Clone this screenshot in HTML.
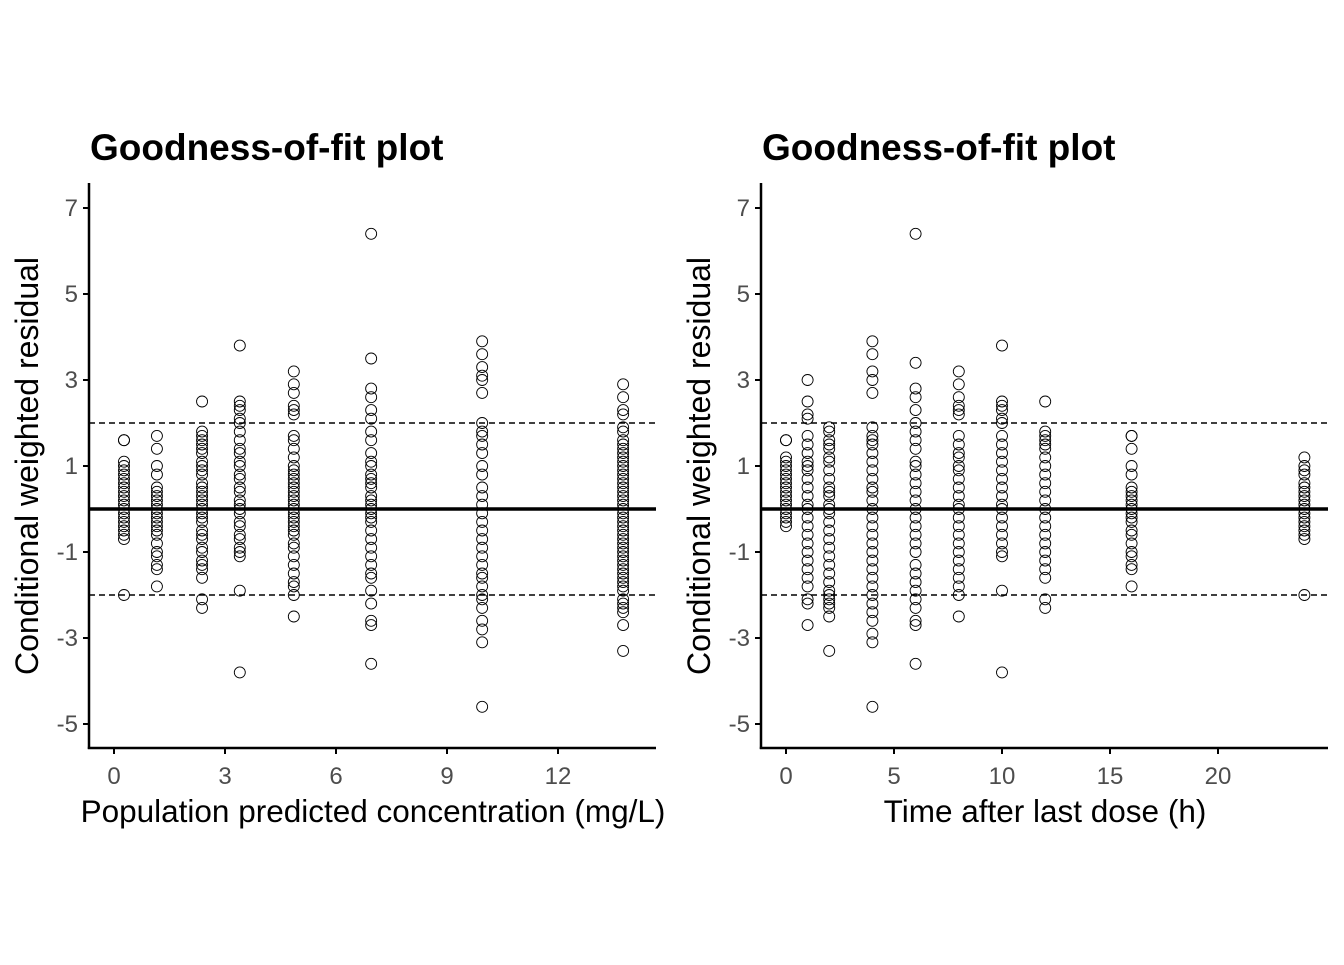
<!DOCTYPE html>
<html><head><meta charset="utf-8"><style>
body{margin:0;background:#fff;}
svg text{font-family:"Liberation Sans",Arial,sans-serif;}
</style></head><body>
<svg id="chart" width="1344" height="960" xmlns="http://www.w3.org/2000/svg">
<rect width="1344" height="960" fill="#fff"/>
</svg>
<script>
const yTicks=[7,5,3,1,-1,-3,-5];
const leftXTicks=[0,3,6,9,12];
const rightXTicks=[0,5,10,15,20];
const leftX=[0.27,1.16,2.38,3.4,4.86,6.95,9.95,13.76];
const leftY=[
[1.6,1.6,1.1,1.0,0.9,0.8,0.7,0.6,0.5,0.4,0.3,0.2,0.1,0.0,-0.1,-0.2,-0.3,-0.4,-0.5,-0.6,-0.7,-2.0],
[1.7,1.4,1.0,0.8,0.5,0.4,0.3,0.2,0.1,0,-0.1,-0.2,-0.3,-0.4,-0.5,-0.6,-0.8,-1.0,-1.1,-1.3,-1.4,-1.8],
[2.5,1.8,1.7,1.6,1.5,1.4,1.3,1.1,1.0,0.9,0.8,0.6,0.5,0.4,0.3,0.2,0.1,0,-0.1,-0.2,-0.3,-0.5,-0.6,-0.7,-0.9,-1.0,-1.2,-1.3,-1.4,-1.6,-2.1,-2.3],
[3.8,2.5,2.4,2.3,2.1,2.0,1.8,1.6,1.4,1.3,1.1,1.0,0.8,0.7,0.5,0.4,0.2,0.1,0,-0.1,-0.3,-0.4,-0.6,-0.7,-0.9,-1.0,-1.1,-1.9,-3.8],
[3.2,2.9,2.7,2.4,2.3,2.2,1.7,1.6,1.4,1.2,1.0,0.9,0.8,0.7,0.6,0.5,0.4,0.3,0.2,0.1,0,-0.1,-0.2,-0.3,-0.4,-0.5,-0.6,-0.8,-0.9,-1.1,-1.3,-1.5,-1.7,-1.8,-2.0,-2.5],
[6.4,3.5,2.8,2.6,2.3,2.1,1.8,1.6,1.3,1.1,1.0,0.8,0.7,0.6,0.5,0.3,0.2,0.1,0,-0.1,-0.2,-0.3,-0.5,-0.7,-0.9,-1.1,-1.3,-1.5,-1.6,-1.9,-2.2,-2.6,-2.7,-3.6],
[3.9,3.6,3.3,3.1,3.0,2.7,2.0,1.8,1.7,1.5,1.3,1.0,0.8,0.5,0.3,0.1,-0.1,-0.3,-0.5,-0.7,-0.9,-1.1,-1.3,-1.5,-1.6,-1.8,-2.0,-2.1,-2.3,-2.6,-2.8,-3.1,-4.6],
[2.9,2.6,2.3,2.2,1.9,1.8,1.6,1.5,1.4,1.3,1.2,1.1,1.0,0.9,0.8,0.7,0.6,0.5,0.4,0.3,0.2,0.1,0,-0.1,-0.2,-0.3,-0.4,-0.5,-0.6,-0.7,-0.8,-0.9,-1.0,-1.1,-1.2,-1.3,-1.4,-1.5,-1.6,-1.7,-1.8,-1.9,-2.1,-2.2,-2.3,-2.4,-2.7,-3.3]
];
const rightX=[0,1,2,4,6,8,10,12,16,24];
const rightY=[
[1.6,1.6,1.2,1.1,1.0,0.9,0.8,0.7,0.6,0.5,0.4,0.3,0.2,0.1,0,-0.1,-0.2,-0.3,-0.4],
[3.0,2.5,2.2,2.1,1.7,1.5,1.3,1.1,1.0,0.9,0.7,0.5,0.3,0.1,0,-0.2,-0.4,-0.6,-0.8,-1.0,-1.2,-1.4,-1.6,-1.8,-2.1,-2.2,-2.7],
[1.9,1.8,1.6,1.5,1.4,1.2,1.1,0.9,0.7,0.5,0.4,0.3,0.1,0,-0.1,-0.3,-0.5,-0.7,-0.9,-1.1,-1.3,-1.5,-1.7,-1.9,-2.0,-2.1,-2.2,-2.3,-2.5,-3.3],
[3.9,3.6,3.2,3.0,2.7,1.9,1.7,1.6,1.5,1.3,1.1,0.9,0.7,0.5,0.4,0.2,0.0,-0.2,-0.4,-0.6,-0.8,-1.0,-1.2,-1.4,-1.6,-1.8,-2.0,-2.2,-2.4,-2.6,-2.9,-3.1,-4.6],
[6.4,3.4,2.8,2.6,2.3,2.0,1.8,1.6,1.4,1.1,1.0,0.8,0.6,0.4,0.2,0,-0.2,-0.4,-0.6,-0.8,-1.0,-1.3,-1.5,-1.7,-1.9,-2.1,-2.3,-2.6,-2.7,-3.6],
[3.2,2.9,2.6,2.4,2.3,2.2,1.7,1.5,1.3,1.2,1.0,0.9,0.7,0.5,0.3,0.1,0,-0.2,-0.4,-0.6,-0.8,-1.0,-1.2,-1.4,-1.6,-1.8,-2.0,-2.5],
[3.8,2.5,2.4,2.3,2.1,2.0,1.7,1.5,1.3,1.1,0.9,0.7,0.5,0.3,0.1,0,-0.2,-0.4,-0.6,-0.8,-1.0,-1.1,-1.9,-3.8],
[2.5,1.8,1.7,1.6,1.5,1.4,1.2,1.0,0.8,0.6,0.4,0.2,0,-0.2,-0.4,-0.6,-0.8,-1.0,-1.2,-1.4,-1.6,-2.1,-2.3],
[1.7,1.7,1.4,1.0,0.8,0.5,0.4,0.3,0.2,0.1,0,-0.1,-0.2,-0.3,-0.5,-0.6,-0.8,-1.0,-1.1,-1.3,-1.4,-1.8],
[1.2,1.0,0.9,0.8,0.6,0.5,0.4,0.3,0.2,0.1,0,-0.1,-0.2,-0.3,-0.4,-0.5,-0.6,-0.7,-2.0]
];
const svg=document.getElementById('chart');
const NS='http://www.w3.org/2000/svg';
function mk(tag,attrs,parent){const e=document.createElementNS(NS,tag);for(const k in attrs)e.setAttribute(k,attrs[k]);parent.appendChild(e);return e;}
const yScale=v=>509-43*v;
function panel(px0,px1,x0,xPerUnit,xs,ys,xticks,xtitle,xtitleCx,name){
  const g=mk('g',{},svg);
  
  
  const xScale=v=>x0+xPerUnit*v;
  const t=mk('text',{x:px0+1,y:160,'font-size':37,'font-weight':'bold',fill:'#000'},g);
  
  
  t.textContent='Goodness-of-fit plot';
  const z=mk('line',{x1:px0,x2:px1,y1:yScale(0),y2:yScale(0),stroke:'#000','stroke-width':3.5},g);
  
  
  [2,-2].forEach(v=>{const l=mk('line',{x1:px0,x2:px1,y1:yScale(v),y2:yScale(v),stroke:'#000','stroke-width':1.6,'stroke-dasharray':'6,4'},g);
    
    });
  xs.forEach((xv,i)=>{ys[i].forEach(yv=>{const c=mk('circle',{cx:xScale(xv),cy:yScale(yv),r:5.5,fill:'none',stroke:'#000','stroke-width':0.9},g);
    
    });});
  const ya=mk('line',{x1:px0,x2:px0,y1:183,y2:749,stroke:'#000','stroke-width':2.5},g);
  
  
  const xa=mk('line',{x1:px0-1.2,x2:px1,y1:748,y2:748,stroke:'#000','stroke-width':2.5},g);
  
  
  yTicks.forEach(v=>{mk('line',{x1:px0-6,x2:px0,y1:yScale(v),y2:yScale(v),stroke:'#000','stroke-width':2},g);
    const tl=mk('text',{x:px0-11,y:yScale(v)+8,'font-size':24,fill:'#4d4d4d','text-anchor':'end'},g);
    
    
    tl.textContent=v;});
  xticks.forEach(v=>{mk('line',{x1:xScale(v),x2:xScale(v),y1:748,y2:754,stroke:'#000','stroke-width':2},g);
    const tl=mk('text',{x:xScale(v),y:784,'font-size':24,fill:'#4d4d4d','text-anchor':'middle'},g);
    
    
    tl.textContent=v;});
  const xt=mk('text',{x:xtitleCx,y:822,'font-size':31.5,fill:'#000','text-anchor':'middle'},g);
  
  
  xt.textContent=xtitle;
  const yt=mk('text',{x:0,y:0,'font-size':32,fill:'#000','text-anchor':'middle',transform:`translate(${px0-51},466) rotate(-90)`},g);
  
  
  yt.textContent='Conditional weighted residual';
}
panel(89,656,114,37,leftX,leftY,leftXTicks,'Population predicted concentration (mg/L)',373,'left-panel');
panel(761,1328,786,21.6,rightX,rightY,rightXTicks,'Time after last dose (h)',1045,'right-panel');
</script>
</body></html>
